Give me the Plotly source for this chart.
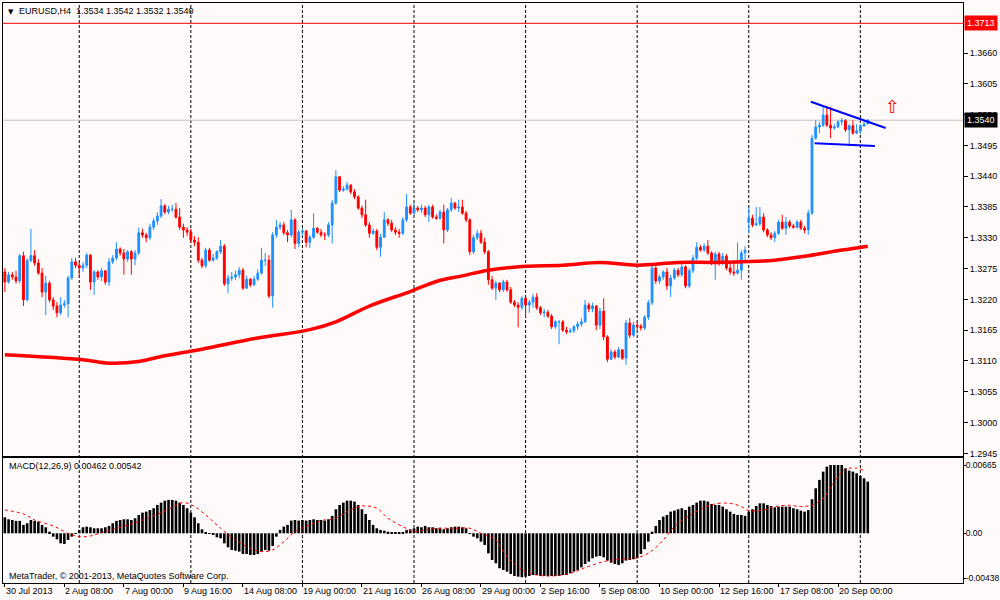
import plotly.graph_objects as go

symbol = "EURUSD,H4"

# H4 bars (bar 0 = 30 Jul 2013 16:00)
closes = [
    1.3251, 1.3264, 1.3260, 1.3253, 1.3298, 1.3219, 1.3289, 1.3298, 1.3285, 1.3267,
    1.3233, 1.3249, 1.3219, 1.3208, 1.3196, 1.3210, 1.3212, 1.3258, 1.3287, 1.3281,
    1.3276, 1.3281, 1.3299, 1.3251, 1.3269, 1.3260, 1.3271, 1.3251, 1.3287, 1.3294,
    1.3310, 1.3303, 1.3292, 1.3305, 1.3292, 1.3303, 1.3339, 1.3335, 1.3330, 1.3349,
    1.3360, 1.3369, 1.3387, 1.3376, 1.3381, 1.3381, 1.3367, 1.3349, 1.3344, 1.3340,
    1.3326, 1.3322, 1.3290, 1.3280, 1.3308, 1.3290, 1.3294, 1.3305, 1.3315, 1.3248,
    1.3258, 1.3260, 1.3264, 1.3272, 1.3240, 1.3256, 1.3246, 1.3256, 1.3267, 1.3290,
    1.3290, 1.3226, 1.3335, 1.3349, 1.3353, 1.3339, 1.3335, 1.3362, 1.3320, 1.3340,
    1.3342, 1.3322, 1.3331, 1.3347, 1.3340, 1.3335, 1.3335, 1.3353, 1.3392, 1.3439,
    1.3415, 1.3417, 1.3424, 1.3412, 1.3403, 1.3383, 1.3371, 1.3353, 1.3338, 1.3342,
    1.3313, 1.3331, 1.3362, 1.3356, 1.3344, 1.3340, 1.3338, 1.3362, 1.3385, 1.3374,
    1.3383, 1.3380, 1.3383, 1.3371, 1.3385, 1.3367, 1.3365, 1.3376, 1.3344, 1.3380,
    1.3392, 1.3383, 1.3385, 1.3374, 1.3362, 1.3305, 1.3330, 1.3338, 1.3322, 1.3305,
    1.3255, 1.3240, 1.3249, 1.3237, 1.3251, 1.3237, 1.3215, 1.3210, 1.3206, 1.3222,
    1.3210, 1.3215, 1.3224, 1.3205, 1.3196, 1.3197, 1.3190, 1.3171, 1.3180, 1.3180,
    1.3165, 1.3162, 1.3164, 1.3171, 1.3176, 1.3180, 1.3210, 1.3203, 1.3208, 1.3174,
    1.3199, 1.3153, 1.3113, 1.3126, 1.3117, 1.3130, 1.3115, 1.3178, 1.3156, 1.3174,
    1.3172, 1.3169, 1.3188, 1.3214, 1.3276, 1.3253, 1.3260, 1.3269, 1.3244, 1.3258,
    1.3272, 1.3264, 1.3278, 1.3244, 1.3271, 1.3294, 1.3313, 1.3308, 1.3315, 1.3303,
    1.3285, 1.3301, 1.3285, 1.3297, 1.3276, 1.3269, 1.3267, 1.3272, 1.3303, 1.3308,
    1.3365, 1.3353, 1.3355, 1.3367, 1.3344, 1.3335, 1.3330, 1.3338, 1.3358, 1.3347,
    1.3358, 1.3351, 1.3349, 1.3358, 1.3347, 1.3344, 1.3374, 1.3508, 1.3528, 1.3531,
    1.3549, 1.3531, 1.3526, 1.3528, 1.3537, 1.3539, 1.3523, 1.3530, 1.3517, 1.3521,
    1.3530, 1.3533, 1.3540,
]
highs = [
    1.3276, 1.3269, 1.3269, 1.3271, 1.3301, 1.3305, 1.3294, 1.3346, 1.3308, 1.3292,
    1.3276, 1.3262, 1.3253, 1.3224, 1.3215, 1.3224, 1.3219, 1.3262, 1.3294, 1.3294,
    1.3287, 1.3287, 1.3303, 1.3301, 1.3272, 1.3272, 1.3276, 1.3272, 1.3294, 1.3299,
    1.3322, 1.3313, 1.3310, 1.3308, 1.3308, 1.3308, 1.3348, 1.3346, 1.3339, 1.3355,
    1.3365, 1.3376, 1.3399, 1.3390, 1.3387, 1.3389, 1.3392, 1.3383, 1.3355, 1.3349,
    1.3346, 1.3333, 1.3331, 1.3294, 1.3312, 1.3312, 1.3301, 1.3308, 1.3326, 1.3319,
    1.3264, 1.3269, 1.3271, 1.3278, 1.3276, 1.3262, 1.3258, 1.3262, 1.3274, 1.3312,
    1.3303, 1.3299, 1.3340, 1.3362, 1.3358, 1.3358, 1.3344, 1.3380, 1.3365, 1.3344,
    1.3347, 1.3344, 1.3335, 1.3374, 1.3349, 1.3346, 1.3340, 1.3358, 1.3398, 1.3451,
    1.3440, 1.3422, 1.3430, 1.3426, 1.3417, 1.3406, 1.3387, 1.3398, 1.3358, 1.3347,
    1.3346, 1.3337, 1.3376, 1.3365, 1.3362, 1.3349, 1.3346, 1.3367, 1.3408, 1.3389,
    1.3392, 1.3387, 1.3389, 1.3387, 1.3389, 1.3389, 1.3372, 1.3380, 1.3389, 1.3383,
    1.3401, 1.3394, 1.3398, 1.3398, 1.3378, 1.3365, 1.3335, 1.3344, 1.3344, 1.3330,
    1.3308, 1.3262, 1.3253, 1.3251, 1.3255, 1.3255, 1.3242, 1.3219, 1.3215, 1.3226,
    1.3224, 1.3219, 1.3230, 1.3231, 1.3208, 1.3203, 1.3201, 1.3194, 1.3183, 1.3183,
    1.3183, 1.3171, 1.3169, 1.3174, 1.3181, 1.3187, 1.3219, 1.3214, 1.3214, 1.3210,
    1.3205, 1.3222, 1.3156, 1.3131, 1.3130, 1.3135, 1.3131, 1.3183, 1.3187, 1.3180,
    1.3180, 1.3176, 1.3192, 1.3219, 1.3281, 1.3279, 1.3264, 1.3272, 1.3276, 1.3264,
    1.3276, 1.3276, 1.3283, 1.3281, 1.3276, 1.3299, 1.3322, 1.3317, 1.3320, 1.3326,
    1.3306, 1.3305, 1.3305, 1.3303, 1.3301, 1.3283, 1.3290, 1.3322, 1.3308, 1.3315,
    1.3385, 1.3371, 1.3385, 1.3385, 1.3374, 1.3347, 1.3340, 1.3342, 1.3362, 1.3371,
    1.3367, 1.3362, 1.3355, 1.3362, 1.3362, 1.3351, 1.3380, 1.3514, 1.3540, 1.3537,
    1.3567, 1.3565, 1.3564, 1.3533, 1.3540, 1.3544, 1.3542, 1.3533, 1.3540, 1.3533,
    1.3533, 1.3540, 1.3542,
]
lows = [
    1.3233, 1.3248, 1.3255, 1.3248, 1.3249, 1.3208, 1.3217, 1.3287, 1.3280, 1.3264,
    1.3224, 1.3192, 1.3215, 1.3201, 1.3188, 1.3192, 1.3205, 1.3188, 1.3255, 1.3276,
    1.3258, 1.3269, 1.3276, 1.3237, 1.3228, 1.3255, 1.3253, 1.3246, 1.3244, 1.3283,
    1.3290, 1.3298, 1.3264, 1.3287, 1.3264, 1.3281, 1.3299, 1.3330, 1.3322, 1.3326,
    1.3344, 1.3353, 1.3365, 1.3372, 1.3372, 1.3376, 1.3364, 1.3344, 1.3330, 1.3333,
    1.3321, 1.3315, 1.3285, 1.3276, 1.3276, 1.3287, 1.3287, 1.3290, 1.3301, 1.3244,
    1.3231, 1.3253, 1.3255, 1.3258, 1.3237, 1.3239, 1.3242, 1.3244, 1.3253, 1.3264,
    1.3280, 1.3222, 1.3205, 1.3330, 1.3344, 1.3335, 1.3322, 1.3331, 1.3310, 1.3313,
    1.3333, 1.3313, 1.3312, 1.3328, 1.3337, 1.3331, 1.3326, 1.3331, 1.3320, 1.3389,
    1.3412, 1.3412, 1.3414, 1.3408, 1.3399, 1.3380, 1.3365, 1.3349, 1.3330, 1.3335,
    1.3308, 1.3296, 1.3330, 1.3351, 1.3340, 1.3335, 1.3330, 1.3335, 1.3358, 1.3371,
    1.3371, 1.3376, 1.3374, 1.3367, 1.3358, 1.3364, 1.3362, 1.3362, 1.3320, 1.3340,
    1.3376, 1.3380, 1.3376, 1.3371, 1.3358, 1.3299, 1.3301, 1.3326, 1.3319, 1.3301,
    1.3246, 1.3237, 1.3219, 1.3233, 1.3233, 1.3233, 1.3212, 1.3206, 1.3170, 1.3201,
    1.3188, 1.3196, 1.3205, 1.3201, 1.3192, 1.3188, 1.3187, 1.3167, 1.3167, 1.3140,
    1.3162, 1.3158, 1.3160, 1.3160, 1.3165, 1.3171, 1.3178, 1.3197, 1.3197, 1.3165,
    1.3167, 1.3147, 1.3108, 1.3112, 1.3113, 1.3115, 1.3112, 1.3103, 1.3151, 1.3153,
    1.3165, 1.3164, 1.3165, 1.3183, 1.3210, 1.3248, 1.3248, 1.3255, 1.3237, 1.3224,
    1.3255, 1.3260, 1.3260, 1.3240, 1.3240, 1.3267, 1.3290, 1.3305, 1.3305, 1.3299,
    1.3281, 1.3255, 1.3280, 1.3281, 1.3272, 1.3264, 1.3262, 1.3264, 1.3255, 1.3287,
    1.3338, 1.3349, 1.3351, 1.3351, 1.3340, 1.3331, 1.3326, 1.3322, 1.3335, 1.3344,
    1.3335, 1.3347, 1.3346, 1.3346, 1.3344, 1.3338, 1.3335, 1.3371, 1.3505, 1.3517,
    1.3528, 1.3528, 1.3508, 1.3523, 1.3526, 1.3531, 1.3519, 1.3496, 1.3514, 1.3515,
    1.3515, 1.3528, 1.3532,
]
# opens follow the previous close, except where the chart shows a gap
gap_opens = {0: 1.3269, 200: 1.3358, 232: 1.3534}

# moving average (thick red line), sampled along its course
ma_bars = [0, 21, 28, 36, 42, 53, 68, 82, 89, 98, 109, 116, 123, 130, 140,
           150, 160, 170, 181, 191, 202, 207, 216, 225, 232]
ma_values = [1.3121, 1.3112, 1.3106, 1.3109, 1.3118, 1.3131, 1.3151, 1.3166,
             1.3180, 1.3208, 1.3234, 1.3252, 1.3262, 1.3272, 1.3279, 1.3281,
             1.3286, 1.3281, 1.3286, 1.3286, 1.3288, 1.3290, 1.3298, 1.3308,
             1.3315]

# MACD(12,26,9) histogram
macd = [
    0.00156, 0.00137, 0.00130, 0.00121, 0.00121, 0.00082, 0.00098, 0.00130, 0.00121, 0.00114,
    0.00082, 0.00059, 0.00016, -0.00033, -0.00059, -0.00098, -0.00104, -0.00065, -0.00033, -0.00007,
    0.00033, 0.00059, 0.00065, 0.00059, 0.00049, 0.00049, 0.00049, 0.00059, 0.00072, 0.00098,
    0.00121, 0.00130, 0.00137, 0.00137, 0.00130, 0.00147, 0.00179, 0.00202, 0.00212, 0.00228,
    0.00245, 0.00277, 0.00300, 0.00319, 0.00326, 0.00326, 0.00319, 0.00300, 0.00277, 0.00245,
    0.00202, 0.00156, 0.00098, 0.00039, 0.00007, -0.00007, -0.00016, -0.00039, -0.00049, -0.00098,
    -0.00137, -0.00163, -0.00170, -0.00179, -0.00202, -0.00202, -0.00212, -0.00212, -0.00202, -0.00179,
    -0.00163, -0.00170, -0.00124, -0.00033, 0.00033, 0.00065, 0.00082, 0.00124, 0.00130, 0.00124,
    0.00130, 0.00124, 0.00130, 0.00137, 0.00130, 0.00130, 0.00124, 0.00137, 0.00170, 0.00235,
    0.00277, 0.00300, 0.00319, 0.00319, 0.00310, 0.00277, 0.00235, 0.00189, 0.00130, 0.00082,
    0.00049, 0.00033, 0.00026, 0.00016, 0.00007, 0.00003, 0.00003, 0.00007, 0.00033, 0.00039,
    0.00049, 0.00065, 0.00059, 0.00072, 0.00059, 0.00059, 0.00049, 0.00055, 0.00039, 0.00049,
    0.00059, 0.00065, 0.00065, 0.00059, 0.00049, 0.00002, -0.00033, -0.00049, -0.00082, -0.00114,
    -0.00196, -0.00261, -0.00293, -0.00342, -0.00359, -0.00375, -0.00398, -0.00417, -0.00424, -0.00430,
    -0.00424, -0.00417, -0.00408, -0.00408, -0.00417, -0.00417, -0.00417, -0.00417, -0.00417, -0.00417,
    -0.00408, -0.00408, -0.00391, -0.00375, -0.00359, -0.00333, -0.00300, -0.00277, -0.00245, -0.00228,
    -0.00222, -0.00235, -0.00267, -0.00287, -0.00300, -0.00310, -0.00293, -0.00267, -0.00261, -0.00254,
    -0.00245, -0.00202, -0.00156, -0.00082, 0.00016, 0.00072, 0.00130, 0.00163, 0.00179, 0.00212,
    0.00222, 0.00235, 0.00245, 0.00228, 0.00261, 0.00277, 0.00300, 0.00319, 0.00319, 0.00310,
    0.00287, 0.00277, 0.00277, 0.00261, 0.00235, 0.00212, 0.00189, 0.00179, 0.00179, 0.00170,
    0.00212, 0.00235, 0.00267, 0.00293, 0.00293, 0.00277, 0.00267, 0.00254, 0.00261, 0.00261,
    0.00261, 0.00261, 0.00245, 0.00235, 0.00222, 0.00212, 0.00228, 0.00333, 0.00440, 0.00522,
    0.00603, 0.00652, 0.00668, 0.00668, 0.00668, 0.00668, 0.00636, 0.00613, 0.00603, 0.00587,
    0.00561, 0.00538, 0.00505,
]
# signal line (red dotted), sampled along its course
signal_bars = [0, 5, 8, 13, 17, 20, 23, 26, 31, 35, 40, 44, 48, 51, 55, 58, 62,
               66, 69, 72, 75, 78, 82, 85, 89, 92, 96, 100, 103, 107, 110, 114,
               118, 121, 125, 128, 132, 134, 137, 140, 143, 147, 152, 156, 161,
               165, 169, 173, 177, 180, 184, 187, 191, 195, 198, 200, 204, 207,
               211, 214, 217, 220, 223, 226, 229, 231]
signal_values = [0.00228, 0.00189, 0.00130, 0.00072, 0.00000, -0.00033, -0.00026,
                 0.00007, 0.00059, 0.00104, 0.00170, 0.00235, 0.00300, 0.00261,
                 0.00147, 0.00049, -0.00065, -0.00147, -0.00179, -0.00163,
                 -0.00082, 0.00016, 0.00082, 0.00124, 0.00147, 0.00212, 0.00267,
                 0.00245, 0.00147, 0.00065, 0.00016, 0.00039, 0.00049, 0.00049,
                 0.00049, 0.00000, -0.00065, -0.00179, -0.00300, -0.00375,
                 -0.00408, -0.00417, -0.00391, -0.00336, -0.00277, -0.00254,
                 -0.00245, -0.00196, -0.00065, 0.00065, 0.00170, 0.00235, 0.00287,
                 0.00293, 0.00261, 0.00222, 0.00228, 0.00261, 0.00274, 0.00261,
                 0.00277, 0.00342, 0.00505, 0.00626, 0.00636, 0.00613]

# time axis labels
label_bars = [0, 16, 32, 48, 64, 80, 96, 112, 128, 144, 160, 176, 192, 208, 224]
label_texts = ["30 Jul 2013", "2 Aug 08:00", "7 Aug 00:00", "9 Aug 16:00",
               "14 Aug 08:00", "19 Aug 00:00", "21 Aug 16:00", "26 Aug 08:00",
               "29 Aug 00:00", "2 Sep 16:00", "5 Sep 08:00", "10 Sep 00:00",
               "12 Sep 16:00", "17 Sep 08:00", "20 Sep 00:00"]
week_bars = [20, 50, 80, 110, 140, 170, 200, 230]  # Monday 00:00 separators

price_ticks = [1.3660, 1.3605, 1.3550, 1.3495, 1.3440, 1.3385, 1.3330,
               1.3275, 1.3220, 1.3165, 1.3110, 1.3055, 1.3000, 1.2945]
macd_ticks = [0.00665, 0.0, -0.00438]
macd_tick_texts = ["0.00665", "0.00", "-0.00438"]

alert_price = 1.3713
bid_price = 1.3540

# chart objects drawn by hand on the chart
trend_upper_bars = [216.7, 236.8]
trend_upper_prices = [1.3573, 1.3526]
trend_lower_bars = [217.7, 233.9]
trend_lower_prices = [1.3499, 1.3494]
arrow_bar = 238.7
arrow_price = 1.3565

macd_last = "0.00462"
signal_last = "0.00542"

bars = list(range(len(closes)))
opens = [gap_opens.get(i, closes[i - 1] if i else closes[0]) for i in bars]

BG = "#FFFAFA"
BLUE = "#1E90FF"
RED = "#FF0000"
FONT = "Liberation Sans"

fig = go.Figure()

fig.add_trace(
    go.Candlestick(
        x=bars, open=opens, high=highs, low=lows, close=closes,
        increasing=dict(line=dict(color=BLUE, width=1), fillcolor=BLUE),
        decreasing=dict(line=dict(color=RED, width=1), fillcolor=RED),
        xaxis="x", yaxis="y", hoverinfo="skip",
    )
)
fig.add_trace(
    go.Scatter(
        x=ma_bars, y=ma_values, mode="lines",
        line=dict(color=RED, width=3.5, shape="spline"),
        xaxis="x", yaxis="y", hoverinfo="skip",
    )
)
fig.add_trace(
    go.Bar(
        x=bars, y=macd, marker=dict(color="black", line=dict(width=0)),
        xaxis="x2", yaxis="y2", hoverinfo="skip",
    )
)
fig.add_trace(
    go.Scatter(
        x=signal_bars, y=signal_values, mode="lines",
        line=dict(color=RED, width=1, dash="dot", shape="spline"),
        xaxis="x2", yaxis="y2", hoverinfo="skip",
    )
)

shapes = []
for b in week_bars:
    shapes.append(dict(type="line", xref="x", yref="paper", x0=b, x1=b, y0=0, y1=1,
                       line=dict(color="black", width=1, dash="3px,2px"), layer="below"))
shapes.append(dict(type="line", xref="paper", yref="y", x0=0, x1=1,
                   y0=alert_price, y1=alert_price, line=dict(color=RED, width=1)))
shapes.append(dict(type="line", xref="paper", yref="y", x0=0, x1=1,
                   y0=bid_price, y1=bid_price, line=dict(color="#C0C0C0", width=1),
                   layer="below"))
shapes.append(dict(type="line", xref="x", yref="y",
                   x0=trend_upper_bars[0], x1=trend_upper_bars[1],
                   y0=trend_upper_prices[0], y1=trend_upper_prices[1],
                   line=dict(color="#0000FF", width=2)))
shapes.append(dict(type="line", xref="x", yref="y",
                   x0=trend_lower_bars[0], x1=trend_lower_bars[1],
                   y0=trend_lower_prices[0], y1=trend_lower_prices[1],
                   line=dict(color="#0000FF", width=2)))

small = dict(family=FONT, size=9, color="black")
annotations = []
for b, t in zip(label_bars, label_texts):
    annotations.append(dict(x=b, y=0, xref="x2", yref="paper", text=t, showarrow=False,
                            xanchor="left", yanchor="top", xshift=-1, yshift=-1, font=small))
last = len(closes) - 1
title = f"{symbol}  {opens[last]:.4f} {highs[last]:.4f} {lows[last]:.4f} {closes[last]:.4f}"
annotations += [
    dict(x=0, y=1, xref="paper", yref="paper", text="▼", showarrow=False,
         xanchor="left", yanchor="top", xshift=3, yshift=-3,
         font=dict(family="DejaVu Sans", size=7, color="black")),
    dict(x=0, y=1, xref="paper", yref="paper", text=title, showarrow=False,
         xanchor="left", yanchor="top", xshift=14, yshift=-1, font=small),
    dict(x=0, y=0.2155, xref="paper", yref="paper",
         text=f"MACD(12,26,9) {macd_last} {signal_last}", showarrow=False,
         xanchor="left", yanchor="top", xshift=4, yshift=-1, font=small),
    dict(x=0, y=0, xref="paper", yref="paper",
         text="MetaTrader, © 2001-2013, MetaQuotes Software Corp.", showarrow=False,
         xanchor="left", yanchor="bottom", xshift=4, yshift=0, font=small),
    dict(x=1, y=alert_price, xref="paper", yref="y", text=f"{alert_price:.4f}",
         showarrow=False, xanchor="left", yanchor="middle", xshift=1,
         bgcolor=RED, borderpad=2, font=dict(family=FONT, size=9, color="white")),
    dict(x=1, y=bid_price, xref="paper", yref="y", text=f"{bid_price:.4f}",
         showarrow=False, xanchor="left", yanchor="middle", xshift=1,
         bgcolor="black", borderpad=2, font=dict(family=FONT, size=9, color="white")),
    dict(x=arrow_bar, y=arrow_price, xref="x", yref="y", text="⇧", showarrow=False,
         font=dict(family="DejaVu Sans", size=18, color=RED)),
]

x_range = [-0.5, 257.6]
fig.update_layout(
    width=1000, height=600, autosize=False,
    margin=dict(l=3, r=37, t=3, b=17, autoexpand=False),
    paper_bgcolor=BG, plot_bgcolor=BG,
    showlegend=False, bargap=0.3,
    font=small,
    shapes=shapes, annotations=annotations,
    xaxis=dict(domain=[0, 1], range=x_range, anchor="y", showgrid=False,
               zeroline=False, showticklabels=False, showline=True, mirror=True,
               linecolor="black", linewidth=1, rangeslider=dict(visible=False),
               automargin=False),
    yaxis=dict(domain=[0.219, 1], range=[1.29403, 1.37493], side="right",
               anchor="x", tickvals=price_ticks, tickformat=".4f", ticks="outside",
               ticklen=4, tickcolor="black", showgrid=False, zeroline=False,
               showline=True, mirror=True, linecolor="black", linewidth=1,
               tickfont=small, automargin=False),
    xaxis2=dict(domain=[0, 1], range=x_range, anchor="y2", showgrid=False,
                zeroline=False, tickvals=label_bars, ticks="outside", ticklen=3,
                tickcolor="black", showticklabels=False, showline=True, mirror=True,
                linecolor="black", linewidth=1, automargin=False),
    yaxis2=dict(domain=[0, 0.2155], range=[-0.00486, 0.00736], side="right",
                anchor="x2", tickvals=macd_ticks, ticktext=macd_tick_texts,
                ticks="outside", ticklen=2, tickcolor="black", showgrid=False,
                zeroline=False, showline=True, mirror=True, linecolor="black",
                linewidth=1, tickfont=dict(family=FONT, size=8.5, color="black"),
                ticklabelstandoff=-2, automargin=False),
)

fig.write_html("out.html", config={"displayModeBar": False},
               post_script="document.body.style.margin='0';")
